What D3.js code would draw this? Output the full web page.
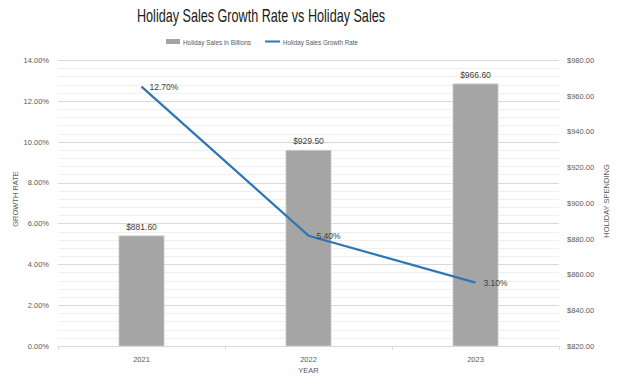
<!DOCTYPE html>
<html>
<head>
<meta charset="utf-8" />
<script src="https://d3js.org/d3.v7.min.js"></script>
<style>
html, body { margin: 0; background: #fff; }
text { font-family: "Liberation Sans", Arial, sans-serif; }
</style>
</head>
<body>
<svg id="chart" width="623" height="388"></svg>
<script>
// data
var years = ["2021", "2022", "2023"];
var sales = [881.60, 929.50, 966.60];       // billions, right axis
var growth = [12.70, 5.40, 3.10];           // percent, left axis
var growthTicks = [0, 2, 4, 6, 8, 10, 12, 14];
var salesTicks = [820, 840, 860, 880, 900, 920, 940, 960, 980];

var W = 623, H = 388;
var m = { left: 58, right: 64, top: 60, bottom: 42 };
var svg = d3.select("#chart");

var x = d3.scaleBand().domain(years).range([m.left, W - m.right]).paddingInner(0).paddingOuter(0);
var yL = d3.scaleLinear().domain([0, 14]).range([H - m.bottom, m.top]);
var yR = d3.scaleLinear().domain([820, 980]).range([H - m.bottom, m.top]);

// minor grid (0.4% steps)
var minor = d3.range(0, 14.01, 0.4).filter(function (v) { return Math.abs(v / 2 - Math.round(v / 2)) > 0.01; });
svg.append("g").selectAll("line").data(minor).enter().append("line")
  .attr("x1", m.left).attr("x2", W - m.right)
  .attr("y1", function (d) { return Math.round(yL(d)) + 0.5; })
  .attr("y2", function (d) { return Math.round(yL(d)) + 0.5; })
  .attr("stroke", "#f0f0f0").attr("stroke-width", 1);

// major grid
svg.append("g").selectAll("line").data(growthTicks.slice(1)).enter().append("line")
  .attr("x1", m.left).attr("x2", W - m.right)
  .attr("y1", function (d) { return Math.round(yL(d)) + 0.5; })
  .attr("y2", function (d) { return Math.round(yL(d)) + 0.5; })
  .attr("stroke", "#d9d9d9").attr("stroke-width", 1);

// bars
var bw = 45;
svg.append("g").selectAll("rect").data(years).enter().append("rect")
  .attr("x", function (d) { return x(d) + x.bandwidth() / 2 - bw / 2; })
  .attr("y", function (d, i) { return yR(sales[i]); })
  .attr("width", bw)
  .attr("height", function (d, i) { return yR(820) - yR(sales[i]); })
  .attr("fill", "#a5a5a5").attr("stroke", "#c8c8c8").attr("stroke-width", 0.8);

// x axis
var xAxis = d3.axisBottom(x).tickSize(0).tickPadding(11);
var gx = svg.append("g").attr("transform", "translate(0," + (H - m.bottom) + ")").call(xAxis);
gx.select(".domain").attr("stroke", "#d9d9d9");
gx.selectAll("text").attr("font-size", 7.5).attr("fill", "#595959");
// tick marks at band edges
var edges = years.map(function (d) { return x(d); }).concat([x(years[2]) + x.bandwidth()]);
gx.selectAll(".edge").data(edges).enter().append("line")
  .attr("x1", function (d) { return Math.round(d) + 0.5; })
  .attr("x2", function (d) { return Math.round(d) + 0.5; })
  .attr("y1", 0).attr("y2", 4).attr("stroke", "#d9d9d9");

// left axis
var gl = svg.append("g").attr("transform", "translate(" + (m.left - 9) + ",0)")
  .call(d3.axisLeft(yL).tickValues(growthTicks).tickSize(0).tickPadding(0)
    .tickFormat(function (d) { return d.toFixed(2) + "%"; }));
gl.select(".domain").remove();
gl.selectAll("text").attr("font-size", 7.5).attr("fill", "#595959");

// right axis
var gr = svg.append("g").attr("transform", "translate(" + (W - m.right + 8) + ",0)")
  .call(d3.axisRight(yR).tickValues(salesTicks).tickSize(0).tickPadding(0)
    .tickFormat(function (d) { return "$" + d.toFixed(2); }));
gr.select(".domain").remove();
gr.selectAll("text").attr("font-size", 7.5).attr("fill", "#595959");

// line
var line = d3.line()
  .x(function (d, i) { return x(years[i]) + x.bandwidth() / 2; })
  .y(function (d) { return yL(d); });
svg.append("path").datum(growth).attr("d", line)
  .attr("fill", "none").attr("stroke", "#2e75b6").attr("stroke-width", 2.2)
  .attr("stroke-linejoin", "round");

// labels
svg.append("g").selectAll("text").data(years).enter().append("text")
  .attr("x", function (d) { return x(d) + x.bandwidth() / 2; })
  .attr("y", function (d, i) { return yR(sales[i]) - 6; })
  .attr("text-anchor", "middle").attr("font-size", 8.5).attr("fill", "#404040")
  .text(function (d, i) { return "$" + sales[i].toFixed(2); });

svg.append("g").selectAll("text").data(years).enter().append("text")
  .attr("x", function (d) { return x(d) + x.bandwidth() / 2 + 8; })
  .attr("y", function (d, i) { return yL(growth[i]) + 3; })
  .attr("font-size", 8.5).attr("fill", "#404040")
  .text(function (d, i) { return growth[i].toFixed(2) + "%"; });

// title (condensed face not installed, so squeeze it to the original width)
svg.append("text").attr("x", 261).attr("y", 22).attr("text-anchor", "middle")
  .attr("font-size", 18.5).attr("fill", "#1a1a1a")
  .attr("textLength", 248).attr("lengthAdjust", "spacingAndGlyphs")
  .text("Holiday Sales Growth Rate vs Holiday Sales");

// legend
var lg = svg.append("g").attr("transform", "translate(0,42)");
lg.append("rect").attr("x", 166).attr("y", -3).attr("width", 14).attr("height", 5).attr("fill", "#a5a5a5");
lg.append("text").attr("x", 183).attr("y", 2.5).attr("font-size", 7).attr("fill", "#595959")
  .attr("textLength", 68).attr("lengthAdjust", "spacingAndGlyphs").text("Holiday Sales in Billions");
lg.append("line").attr("x1", 265).attr("x2", 280).attr("y1", -0.5).attr("y2", -0.5).attr("stroke", "#2e75b6").attr("stroke-width", 2);
lg.append("text").attr("x", 283).attr("y", 2.5).attr("font-size", 7).attr("fill", "#595959")
  .attr("textLength", 75).attr("lengthAdjust", "spacingAndGlyphs").text("Holiday Sales Growth Rate");

// axis titles
svg.append("text").attr("transform", "translate(18,199) rotate(-90)").attr("text-anchor", "middle")
  .attr("font-size", 7.5).attr("fill", "#595959").text("GROWTH RATE");
svg.append("text").attr("transform", "translate(609,201) rotate(-90)").attr("text-anchor", "middle")
  .attr("font-size", 7.5).attr("fill", "#595959").text("HOLIDAY SPENDING");
svg.append("text").attr("x", x("2022") + x.bandwidth() / 2).attr("y", 373).attr("text-anchor", "middle")
  .attr("font-size", 7.5).attr("fill", "#595959").text("YEAR");
</script>
</body>
</html>
